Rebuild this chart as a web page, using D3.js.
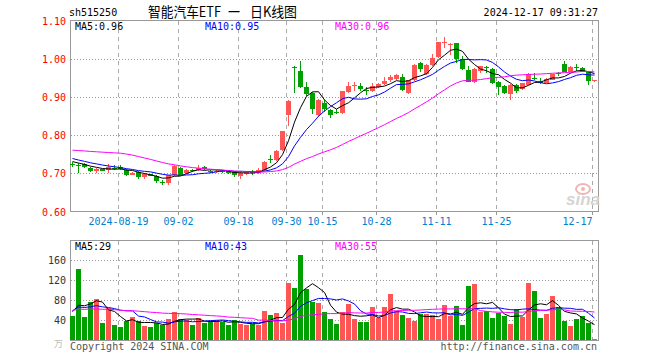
<!DOCTYPE html>
<html>
<head>
<meta charset="utf-8">
<script src="https://cdn.jsdelivr.net/npm/d3@7"></script>
<style>
  body { margin: 0; background: #fff; }
  text { font-family: "DejaVu Sans Mono", monospace; font-size: 10px; }
</style>
</head>
<body>
<svg id="chart" width="660" height="360"></svg>
<script>
// daily bars, 2024-08-07 .. 2024-12-17
const dates = ["08-07","08-08","08-09","08-12","08-13","08-14","08-15","08-16","08-19","08-20",
  "08-21","08-22","08-23","08-26","08-27","08-28","08-29","08-30","09-02","09-03",
  "09-04","09-05","09-06","09-09","09-10","09-11","09-12","09-13","09-18","09-19",
  "09-20","09-23","09-24","09-25","09-26","09-27","09-30","10-08","10-09","10-10",
  "10-11","10-14","10-15","10-16","10-17","10-18","10-21","10-22","10-23","10-24",
  "10-25","10-28","10-29","10-30","10-31","11-01","11-04","11-05","11-06","11-07",
  "11-08","11-11","11-12","11-13","11-14","11-15","11-18","11-19","11-20","11-21",
  "11-22","11-25","11-26","11-27","11-28","11-29","12-02","12-03","12-04","12-05",
  "12-06","12-09","12-10","12-11","12-12","12-13","12-16","12-17"];

const open = [0.724,0.722,0.724,0.714,0.707,0.711,0.709,0.715,0.718,0.710,
  0.697,0.703,0.691,0.698,0.693,0.677,0.675,0.695,0.714,0.701,
  0.709,0.708,0.718,0.706,0.703,0.705,0.705,0.703,0.693,0.698,
  0.704,0.700,0.709,0.738,0.735,0.761,0.853,0.980,0.970,0.927,
  0.911,0.853,0.884,0.866,0.862,0.858,0.913,0.929,0.930,0.918,
  0.917,0.926,0.935,0.944,0.948,0.954,0.911,0.945,0.990,0.961,
  0.985,1.005,1.042,1.038,1.042,1.000,0.972,0.941,0.969,0.979,
  0.975,0.939,0.929,0.908,0.932,0.922,0.933,0.950,0.943,0.938,
  0.946,0.963,0.988,0.967,0.979,0.976,0.965,0.943];
const high = [0.730,0.726,0.726,0.716,0.713,0.712,0.724,0.721,0.722,0.712,
  0.704,0.705,0.700,0.699,0.695,0.682,0.696,0.722,0.716,0.712,
  0.712,0.722,0.720,0.709,0.708,0.709,0.707,0.705,0.707,0.706,
  0.709,0.713,0.733,0.748,0.762,0.811,0.892,0.981,0.995,0.940,
  0.914,0.895,0.893,0.870,0.868,0.917,0.941,0.941,0.938,0.927,
  0.938,0.938,0.952,0.958,0.962,0.961,0.946,0.988,0.992,0.987,
  1.014,1.046,1.059,1.041,1.043,1.007,0.981,0.976,0.983,0.982,
  0.977,0.942,0.932,0.934,0.934,0.938,0.964,0.963,0.951,0.950,
  0.962,0.967,0.994,0.982,0.988,0.979,0.967,0.946];
const low = [0.717,0.701,0.715,0.703,0.702,0.706,0.701,0.709,0.709,0.694,
  0.695,0.686,0.684,0.692,0.674,0.670,0.670,0.694,0.695,0.699,
  0.704,0.706,0.709,0.700,0.700,0.700,0.699,0.690,0.684,0.696,
  0.695,0.699,0.707,0.728,0.733,0.759,0.825,0.911,0.924,0.904,
  0.855,0.849,0.860,0.845,0.856,0.855,0.911,0.915,0.915,0.906,
  0.913,0.924,0.932,0.941,0.945,0.916,0.908,0.943,0.965,0.959,
  0.983,1.003,1.029,1.012,0.990,0.972,0.939,0.938,0.963,0.964,
  0.934,0.906,0.909,0.892,0.911,0.920,0.932,0.944,0.935,0.936,
  0.944,0.955,0.965,0.966,0.970,0.965,0.933,0.941];
const close = [0.723,0.721,0.717,0.707,0.712,0.707,0.716,0.713,0.711,0.697,
  0.702,0.691,0.698,0.693,0.679,0.676,0.695,0.719,0.697,0.709,
  0.708,0.715,0.711,0.705,0.706,0.704,0.701,0.695,0.702,0.704,
  0.703,0.709,0.731,0.737,0.759,0.810,0.891,0.976,0.926,0.908,
  0.869,0.893,0.868,0.853,0.861,0.915,0.930,0.931,0.921,0.917,
  0.930,0.935,0.943,0.952,0.957,0.919,0.945,0.984,0.975,0.985,
  1.003,1.044,1.044,1.040,1.000,0.974,0.941,0.974,0.981,0.977,
  0.937,0.927,0.911,0.933,0.915,0.937,0.960,0.948,0.937,0.947,
  0.960,0.961,0.967,0.980,0.977,0.967,0.942,0.944];
// volume, 万手
const volume = [48,142,46,77,82,34,64,30,26,38,
  46,38,28,26,34,30,42,56,42,40,
  30,44,34,38,40,36,30,40,32,30,
  32,30,58,50,54,34,114,104,170,102,
  76,74,56,42,32,56,73,42,36,36,
  66,44,66,92,58,50,44,38,52,52,
  50,42,70,48,68,30,108,112,56,58,
  44,54,48,32,62,46,114,98,44,52,
  88,66,38,28,42,48,34,2];

// closes / volumes before the window, estimated from where the MA lines start
const priorCloses = [0.752,0.748,0.745,0.740,0.738,0.742,0.740,0.739,
  0.765,0.785,0.800,0.812,0.808,0.800,0.798,0.803,
  0.792,0.785,0.778,0.770,0.760,0.752,0.745,0.740,0.738,
  0.740,0.735,0.730,0.727];
const priorVolumes = [55,62,58,70,64,52,60,66,58,54,62,57,60,55,63,58,61,56,59,60,
  64,58,62,60,58,77,52,58,50];

const tickDates = ["08-19","09-02","09-18","09-30","10-15","10-28","11-11","11-25","12-17"];
const tickLabels = ["2024-08-19","09-02","09-18","09-30","10-15","10-28","11-11","11-25","12-17"];
const priceTicks = [0.6, 0.7, 0.8, 0.9, 1.0, 1.1];
const volTicks = [40, 80, 120, 160];
const priceMaText = ["MA5:0.96", "MA10:0.95", "MA30:0.96"];
const volMaText = ["MA5:29", "MA10:43", "MA30:55"];
const titleParts = [["智能汽车ETF", 148, 73], ["一", 228, 12], ["日K线图", 250, 47]];

const upColor = "#ff5555", downColor = "#00a000";
const maColors = ["#000000", "#0000ff", "#ff00ff"];
const maLens = [5, 10, 30];

const svg = d3.select("#chart");
svg.append("rect").attr("width", 660).attr("height", 360).attr("fill", "#fff");

const x = d3.scaleBand().domain(dates).range([69.5, 597.5]);
const y = d3.scaleLinear().domain([0.6, 1.1]).range([211.5, 21]);
const yv = d3.scaleLinear().domain([0, 200]).range([340, 240.5]);
const cx = d => x(d) + 3;

function movingAvg(series, prior, n) {
  const all = prior.concat(series);
  const k = prior.length;
  return series.map((_, i) => d3.mean(all.slice(k + i - n + 1, k + i + 1)));
}

const bars = dates.map((d, i) => ({
  d, o: open[i], h: high[i], l: low[i], c: close[i], v: volume[i],
  color: close[i] >= open[i] ? upColor : downColor
}));

// grid
const grid = svg.append("g").attr("shape-rendering", "crispEdges");
grid.selectAll(".hp").data(priceTicks.slice(1, -1)).enter().append("line")
  .attr("x1", 71).attr("x2", 598)
  .attr("y1", t => Math.round(y(t)) + 0.5).attr("y2", t => Math.round(y(t)) + 0.5)
  .attr("stroke", "#999").attr("stroke-dasharray", "1,2");
grid.selectAll(".hv").data(volTicks).enter().append("line")
  .attr("x1", 71).attr("x2", 598)
  .attr("y1", t => Math.round(yv(t)) + 0.5).attr("y2", t => Math.round(yv(t)) + 0.5)
  .attr("stroke", "#999").attr("stroke-dasharray", "1,2");
[[21, 211], [241, 340]].forEach(([a, b]) => {
  grid.selectAll(null).data(tickDates).enter().append("line")
    .attr("x1", d => x(d) + 1).attr("x2", d => x(d) + 1)
    .attr("y1", a).attr("y2", b)
    .attr("stroke", "#aaa").attr("stroke-dasharray", "4,4");
});
grid.selectAll(".tk").data(tickDates).enter().append("line")
  .attr("x1", d => x(d) + 1).attr("x2", d => x(d) + 1)
  .attr("y1", 212).attr("y2", 215).attr("stroke", "#999");

// frames
svg.append("rect").attr("x", 70.5).attr("y", 20.5).attr("width", 528).attr("height", 191)
  .attr("fill", "none").attr("stroke", "#999").attr("shape-rendering", "crispEdges");
svg.append("rect").attr("x", 70.5).attr("y", 240.5).attr("width", 528).attr("height", 100)
  .attr("fill", "none").attr("stroke", "#999").attr("shape-rendering", "crispEdges");

// watermark
const wm = svg.append("g");
wm.append("ellipse").attr("cx", 583).attr("cy", 189).attr("rx", 7).attr("ry", 5)
  .attr("fill", "none").attr("stroke", "#f3b4b4").attr("stroke-width", 2);
wm.append("circle").attr("cx", 583).attr("cy", 189).attr("r", 2).attr("fill", "#f3b4b4");
wm.append("text").attr("x", 566).attr("y", 205).text("sina")
  .style("font-family", "'Liberation Sans', Arial, sans-serif").style("font-size", "17px")
  .style("font-style", "italic").style("font-weight", "bold").attr("fill", "#d4d4d4");

// candles
const candles = svg.append("g").attr("shape-rendering", "crispEdges");
candles.selectAll("line").data(bars).enter().append("line")
  .attr("x1", b => cx(b.d)).attr("x2", b => cx(b.d))
  .attr("y1", b => y(b.h)).attr("y2", b => y(b.l))
  .attr("stroke", b => b.color);
candles.selectAll("rect").data(bars).enter().append("rect")
  .attr("x", b => x(b.d) + 0.5).attr("width", 5)
  .attr("y", b => y(Math.max(b.o, b.c)))
  .attr("height", b => Math.max(1, Math.abs(y(b.o) - y(b.c))))
  .attr("fill", b => b.color);

// volume bars
svg.append("g").attr("shape-rendering", "crispEdges")
  .selectAll("rect").data(bars).enter().append("rect")
  .attr("x", b => x(b.d) + 0.5).attr("width", 5)
  .attr("y", b => yv(b.v)).attr("height", b => yv(0) - yv(b.v))
  .attr("fill", b => b.color);

// moving averages
maLens.forEach((n, k) => {
  const pm = movingAvg(close, priorCloses, n);
  svg.append("path").datum(pm)
    .attr("d", d3.line().x((v, i) => cx(dates[i])).y(v => y(v)))
    .attr("fill", "none").attr("stroke", maColors[k]).attr("stroke-width", 1);
  const vm = movingAvg(volume, priorVolumes, n);
  svg.append("path").datum(vm)
    .attr("d", d3.line().x((v, i) => cx(dates[i])).y(v => yv(v)))
    .attr("fill", "none").attr("stroke", maColors[k]).attr("stroke-width", 1);
});

// MA labels
const maX = [75, 205, 335];
svg.selectAll(".pm").data(priceMaText).enter().append("text")
  .attr("x", (t, i) => maX[i]).attr("y", 30).attr("fill", (t, i) => maColors[i]).text(t => t);
svg.selectAll(".vm").data(volMaText).enter().append("text")
  .attr("x", (t, i) => maX[i]).attr("y", 250).attr("fill", (t, i) => maColors[i]).text(t => t);

// axis labels
svg.selectAll(".pl").data(priceTicks).enter().append("text")
  .attr("x", 66).attr("y", t => y(t) + 4).attr("text-anchor", "end")
  .attr("fill", "#ff0000").text(t => t.toFixed(2));
svg.selectAll(".vl").data(volTicks).enter().append("text")
  .attr("x", 66).attr("y", t => yv(t) + 4).attr("text-anchor", "end")
  .attr("fill", "#333").text(t => t);
svg.selectAll(".xl").data(tickDates).enter().append("text")
  .attr("x", d => x(d) + 1)
  .attr("y", 225)
  .attr("text-anchor", (d, i) => i === tickDates.length - 1 ? "end" : "middle")
  .attr("fill", "#0080d0").text((d, i) => tickLabels[i]);

// header
svg.append("text").attr("x", 69).attr("y", 16).attr("fill", "#000").text("sh515250");
svg.selectAll(".tt").data(titleParts).enter().append("text")
  .attr("x", p => p[1]).attr("y", 17).attr("fill", "#000")
  .attr("textLength", p => p[2]).attr("lengthAdjust", "spacingAndGlyphs")
  .style("font-family", "'Noto Sans CJK SC', sans-serif").style("font-size", "14px")
  .text(p => p[0]);
svg.append("text").attr("x", 598).attr("y", 16).attr("text-anchor", "end")
  .attr("fill", "#000").text("2024-12-17 09:31:27");

// footer
svg.append("text").attr("x", 54).attr("y", 347).attr("fill", "#bbb")
  .style("font-family", "'Noto Sans CJK SC', sans-serif").style("font-size", "9px").text("万");
svg.append("text").attr("x", 70).attr("y", 350).attr("fill", "#555").text("Copyright 2024 SINA.COM");
svg.append("text").attr("x", 597).attr("y", 350).attr("text-anchor", "end")
  .attr("fill", "#555").text("http://finance.sina.com.cn");
</script>
</body>
</html>
